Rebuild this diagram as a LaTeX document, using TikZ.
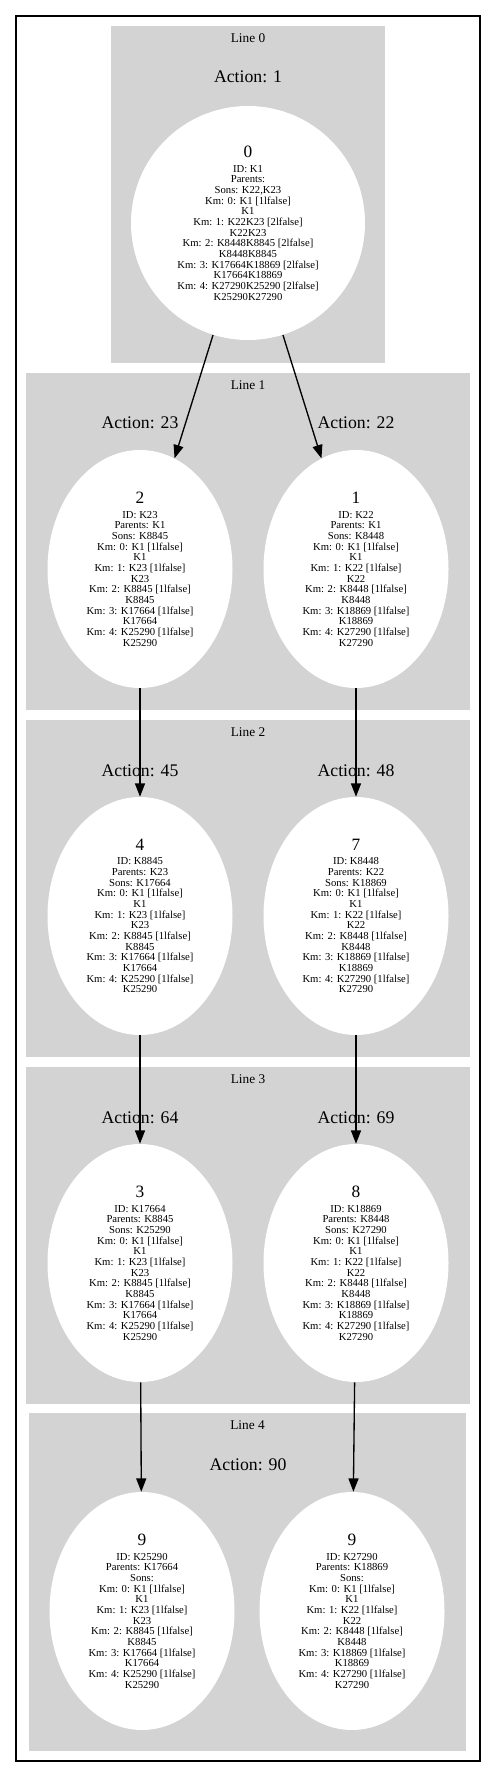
\documentclass[tikz,border=0pt]{standalone}
\usepackage{fontspec}
\setmainfont{Liberation Serif}
\usepackage{xcolor}
\usetikzlibrary{arrows.meta,shapes.geometric}
\definecolor{clustergray}{HTML}{D3D3D3}
\newcommand{\num}[1]{{\fontsize{13}{13}\selectfont #1}\\[3pt]}

\begin{document}
\begin{tikzpicture}[x=0.75pt, y=-0.75pt, font=\fontsize{8}{8}\selectfont,
  cluster/.style={fill=clustergray},
  state/.style={ellipse, fill=white, inner sep=0pt, align=center,
    minimum width=138.75pt, minimum height=178.5pt},
  root/.style={circle, fill=white, inner sep=0pt, align=center, minimum size=175.5pt},
  act/.style={font=\fontsize{13.3}{14}\selectfont},
  linelbl/.style={font=\fontsize{10}{12}\selectfont},
  link/.style={-{Triangle[length=10pt,width=7.5pt]}, line width=1pt}]
  \useasboundingbox (0,0) rectangle (496,1777);
  \draw[line width=1pt] (16,16) rectangle (480,1761);
  \foreach \k/\xa/\ya/\xb/\yb in {0/111/26/385/363, 1/26/373/470/710,
      2/26/720/470/1057, 3/26/1067/470/1404, 4/29/1413/466/1751} {
    \fill[cluster] (\xa,\ya) rectangle (\xb,\yb);
    \node[linelbl] (line\k) at ({(\xa+\xb)/2},{\ya+12}) {Line \k};
  }
  \foreach \x/\y/\a in {248/77/1, 140/423/23, 356/423/22, 140/771/45,
      356/771/48, 140/1118/64, 356/1118/69, 248/1465/90}
    \node[act] (act\a) at (\x,\y) {Action: \a};

  \node[root] (s0) at (248,223) {\num{0}ID: K1\\Parents: \\Sons: K22,K23\\Km: 0: K1 [1lfalse]\\K1\\Km: 1: K22K23 [2lfalse]\\K22K23\\Km: 2: K8448K8845 [2lfalse]\\K8448K8845\\Km: 3: K17664K18869 [2lfalse]\\K17664K18869\\Km: 4: K27290K25290 [2lfalse]\\K25290K27290};

  \node[state] (s2) at (140,569) {\num{2}ID: K23\\Parents: K1\\Sons: K8845\\Km: 0: K1 [1lfalse]\\K1\\Km: 1: K23 [1lfalse]\\K23\\Km: 2: K8845 [1lfalse]\\K8845\\Km: 3: K17664 [1lfalse]\\K17664\\Km: 4: K25290 [1lfalse]\\K25290};
  \node[state] (s1) at (356,569) {\num{1}ID: K22\\Parents: K1\\Sons: K8448\\Km: 0: K1 [1lfalse]\\K1\\Km: 1: K22 [1lfalse]\\K22\\Km: 2: K8448 [1lfalse]\\K8448\\Km: 3: K18869 [1lfalse]\\K18869\\Km: 4: K27290 [1lfalse]\\K27290};

  \node[state] (s4) at (140,916) {\num{4}ID: K8845\\Parents: K23\\Sons: K17664\\Km: 0: K1 [1lfalse]\\K1\\Km: 1: K23 [1lfalse]\\K23\\Km: 2: K8845 [1lfalse]\\K8845\\Km: 3: K17664 [1lfalse]\\K17664\\Km: 4: K25290 [1lfalse]\\K25290};
  \node[state] (s7) at (356,916) {\num{7}ID: K8448\\Parents: K22\\Sons: K18869\\Km: 0: K1 [1lfalse]\\K1\\Km: 1: K22 [1lfalse]\\K22\\Km: 2: K8448 [1lfalse]\\K8448\\Km: 3: K18869 [1lfalse]\\K18869\\Km: 4: K27290 [1lfalse]\\K27290};

  \node[state] (s3) at (140,1263) {\num{3}ID: K17664\\Parents: K8845\\Sons: K25290\\Km: 0: K1 [1lfalse]\\K1\\Km: 1: K23 [1lfalse]\\K23\\Km: 2: K8845 [1lfalse]\\K8845\\Km: 3: K17664 [1lfalse]\\K17664\\Km: 4: K25290 [1lfalse]\\K25290};
  \node[state] (s8) at (356,1263) {\num{8}ID: K18869\\Parents: K8448\\Sons: K27290\\Km: 0: K1 [1lfalse]\\K1\\Km: 1: K22 [1lfalse]\\K22\\Km: 2: K8448 [1lfalse]\\K8448\\Km: 3: K18869 [1lfalse]\\K18869\\Km: 4: K27290 [1lfalse]\\K27290};

  \node[state] (s9l) at (142,1611) {\num{9}ID: K25290\\Parents: K17664\\Sons: \\Km: 0: K1 [1lfalse]\\K1\\Km: 1: K23 [1lfalse]\\K23\\Km: 2: K8845 [1lfalse]\\K8845\\Km: 3: K17664 [1lfalse]\\K17664\\Km: 4: K25290 [1lfalse]\\K25290};
  \node[state] (s9r) at (352,1611) {\num{9}ID: K27290\\Parents: K18869\\Sons: \\Km: 0: K1 [1lfalse]\\K1\\Km: 1: K22 [1lfalse]\\K22\\Km: 2: K8448 [1lfalse]\\K8448\\Km: 3: K18869 [1lfalse]\\K18869\\Km: 4: K27290 [1lfalse]\\K27290};

  \draw[link] (s0) -- (s2);
  \draw[link] (s0) -- (s1);
  \draw[link] (s2) -- (s4);
  \draw[link] (s1) -- (s7);
  \draw[link] (s4) -- (s3);
  \draw[link] (s7) -- (s8);
  \draw[link] (s3) -- (s9l);
  \draw[link] (s8) -- (s9r);
\end{tikzpicture}
\end{document}
